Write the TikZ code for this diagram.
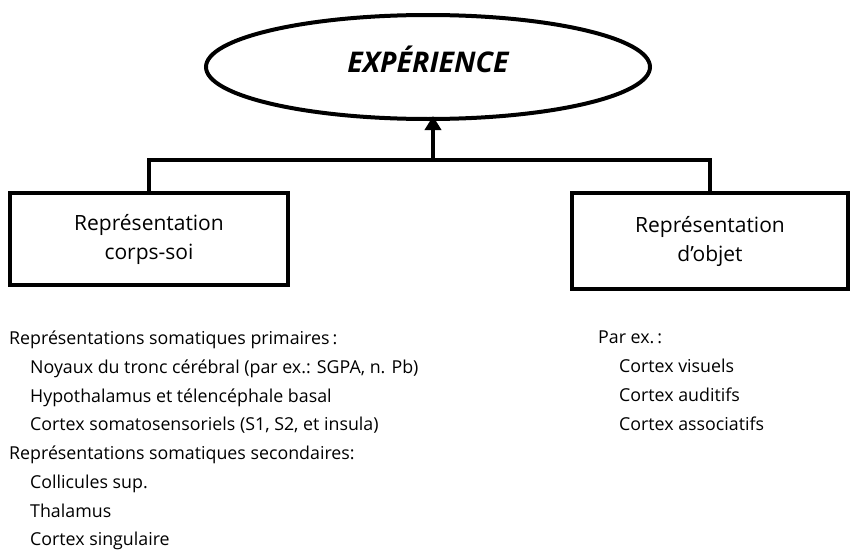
\documentclass[tikz,border=0pt]{standalone}
\usepackage{fontspec}
\setmainfont{Open Sans}
\usetikzlibrary{shapes.geometric,arrows.meta}
\tikzset{
  boxnode/.style={draw, line width=4pt, align=center, inner sep=0pt,
    font=\fontsize{21}{29}\selectfont},
  listnode/.style={align=left, inner sep=0pt, anchor=north west,
    font=\fontsize{17.8}{28.7}\selectfont},
  conn/.style={line width=4pt, line join=miter},
}
\newcommand{\ind}{\hspace*{21pt}}
\begin{document}
\begin{tikzpicture}[x=1pt,y=-1pt]
\useasboundingbox (0,0) rectangle (852,554);
\node[ellipse, draw, line width=4pt, minimum width=444pt, minimum height=104pt,
  text height=20pt, text depth=10pt] (exp) at (428,67)
  {\fontsize{28.5}{32}\selectfont\bfseries\itshape EXPÉRIENCE};
\node[boxnode, minimum width=278pt, minimum height=92pt] (body) at (149,239) {Représentation\\corps-soi};
\node[boxnode, minimum width=276pt, minimum height=96pt] (obj) at (710,241) {Représentation\\d’objet};
\coordinate (bar) at (433,160);
\draw[conn] (body.north) |- (bar) -| (obj.north);
\draw[conn, -{Triangle[length=14pt,width=16pt]}] (bar) -- ([yshift=5pt]bar |- exp.south);
\node[listnode] (left) at (9,331) {Représentations somatiques primaires\,:\\
\ind Noyaux du tronc cérébral (par ex.: SGPA, n. Pb)\\
\ind Hypothalamus et télencéphale basal\\
\ind Cortex somatosensoriels (S1, S2, et insula)\\
Représentations somatiques secondaires:\\
\ind Collicules sup.\\
\ind Thalamus\\
\ind Cortex singulaire};
\node[listnode] (right) at (598,331) {Par ex.\,:\\
\ind Cortex visuels\\
\ind Cortex auditifs\\
\ind Cortex associatifs};
\end{tikzpicture}
\end{document}
